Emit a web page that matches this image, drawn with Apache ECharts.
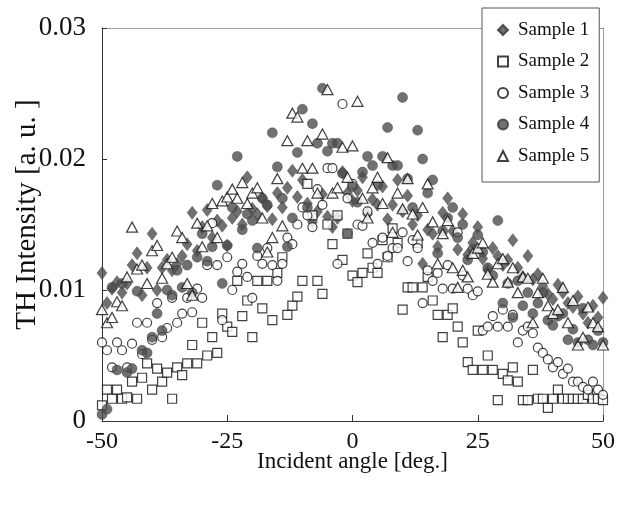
<!DOCTYPE html>
<html>
<head>
    <meta charset="UTF-8">
    <title>TH Intensity</title>
    <script src="https://cdn.jsdelivr.net/npm/echarts@6/dist/echarts.min.js"></script>
    <style>
        html, body {margin: 0; padding: 0; background: #fff;}
        #main {width: 624px; height: 507px;}
    </style>
</head>
<body>
<div id="main"></div>
<script type="text/javascript">
    // incident angles [deg.]
    var angles = [-50, -49, -48, -47, -46, -45, -44, -43, -42, -41,
        -40, -39, -38, -37, -36, -35, -34, -33, -32, -31,
        -30, -29, -28, -27, -26, -25, -24, -23, -22, -21,
        -20, -19, -18, -17, -16, -15, -14, -13, -12, -11,
        -10, -9, -8, -7, -6, -5, -4, -3, -2, -1,
        0,
        1, 2, 3, 4, 5, 6, 7, 8, 9, 10,
        11, 12, 13, 14, 15, 16, 17, 18, 19, 20,
        21, 22, 23, 24, 25, 26, 27, 28, 29, 30,
        31, 32, 33, 34, 35, 36, 37, 38, 39, 40,
        41, 42, 43, 44, 45, 46, 47, 48, 49, 50];

    // TH intensity [a. u.] per sample
    var sample1 = [0.0113, 0.0090, 0.0101, 0.0106, 0.0098, 0.0105, 0.0119, 0.0128, 0.0096, 0.0117,
        0.0143, 0.0100, 0.0117, 0.0123, 0.0115, 0.0120, 0.0126, 0.0135, 0.0159, 0.0130,
        0.0148, 0.0161, 0.0140, 0.0153, 0.0149, 0.0134, 0.0155, 0.0160, 0.0150, 0.0186,
        0.0162, 0.0158, 0.0170, 0.0164, 0.0154, 0.0174, 0.0163, 0.0178, 0.0191, 0.0171,
        0.0184, 0.0166, 0.0152, 0.0160, 0.0173, 0.0156, 0.0148, 0.0155, 0.0190, 0.0174,
        0.0168,
        0.0176, 0.0186, 0.0158, 0.0169, 0.0165, 0.0179, 0.0154, 0.0165, 0.0184, 0.0160,
        0.0172, 0.0150, 0.0157, 0.0120, 0.0146, 0.0143, 0.0133, 0.0159, 0.0170, 0.0145,
        0.0131, 0.0158, 0.0127, 0.0136, 0.0148, 0.0124, 0.0115, 0.0132, 0.0126, 0.0119,
        0.0123, 0.0138, 0.0117, 0.0110, 0.0126, 0.0108, 0.0112, 0.0103, 0.0097, 0.0093,
        0.0104, 0.0098, 0.0090, 0.0087, 0.0095, 0.0082, 0.0075, 0.0088, 0.0079, 0.0094];

    var sample2 = [0.0012, 0.0024, 0.0017, 0.0024, 0.0017, 0.0018, 0.0030, 0.0017, 0.0033, 0.0044,
        0.0024, 0.0040, 0.0030, 0.0037, 0.0017, 0.0041, 0.0035, 0.0044, 0.0058, 0.0044,
        0.0075, 0.0050, 0.0064, 0.0052, 0.0082, 0.0072, 0.0068, 0.0107, 0.0080, 0.0092,
        0.0064, 0.0107, 0.0086, 0.0107, 0.0077, 0.0113, 0.0125, 0.0081, 0.0088, 0.0095,
        0.0107, 0.0181, 0.0157, 0.0107, 0.0097, 0.0150, 0.0135, 0.0157, 0.0123, 0.0143,
        0.0111,
        0.0106, 0.0113, 0.0128, 0.0117, 0.0113, 0.0138, 0.0125, 0.0147, 0.0136, 0.0085,
        0.0102, 0.0102, 0.0136, 0.0102, 0.0110, 0.0092, 0.0081, 0.0064, 0.0081, 0.0086,
        0.0072, 0.0060, 0.0045, 0.0039, 0.0069, 0.0039, 0.0050, 0.0039, 0.0016, 0.0036,
        0.0031, 0.0041, 0.0030, 0.0016, 0.0016, 0.0039, 0.0017, 0.0017, 0.0010, 0.0017,
        0.0024, 0.0017, 0.0017, 0.0017, 0.0017, 0.0017, 0.0020, 0.0017, 0.0017, 0.0016];

    var sample3 = [0.0060, 0.0054, 0.0041, 0.0060, 0.0054, 0.0041, 0.0059, 0.0075, 0.0051, 0.0075,
        0.0062, 0.0090, 0.0064, 0.0071, 0.0094, 0.0075, 0.0082, 0.0094, 0.0083, 0.0101,
        0.0094, 0.0119, 0.0151, 0.0119, 0.0077, 0.0125, 0.0100, 0.0114, 0.0120, 0.0110,
        0.0094, 0.0126, 0.0120, 0.0132, 0.0119, 0.0107, 0.0120, 0.0140, 0.0135, 0.0150,
        0.0163, 0.0157, 0.0148, 0.0177, 0.0165, 0.0193, 0.0193, 0.0120, 0.0242, 0.0170,
        0.0181,
        0.0150, 0.0149, 0.0160, 0.0136, 0.0120, 0.0140, 0.0126, 0.0132, 0.0132, 0.0144,
        0.0122, 0.0138, 0.0132, 0.0090, 0.0115, 0.0107, 0.0113, 0.0101, 0.0119, 0.0101,
        0.0144, 0.0111, 0.0101, 0.0096, 0.0099, 0.0069, 0.0072, 0.0080, 0.0072, 0.0085,
        0.0072, 0.0081, 0.0060, 0.0069, 0.0072, 0.0067, 0.0056, 0.0052, 0.0047, 0.0041,
        0.0045, 0.0036, 0.0040, 0.0030, 0.0030, 0.0026, 0.0024, 0.0030, 0.0024, 0.0020];

    var sample4 = [0.0005, 0.0009, 0.0102, 0.0039, 0.0105, 0.0037, 0.0040, 0.0099, 0.0054, 0.0052,
        0.0064, 0.0082, 0.0069, 0.0100, 0.0096, 0.0115, 0.0102, 0.0119, 0.0098, 0.0125,
        0.0143, 0.0122, 0.0133, 0.0180, 0.0105, 0.0134, 0.0163, 0.0202, 0.0146, 0.0158,
        0.0153, 0.0132, 0.0170, 0.0165, 0.0220, 0.0194, 0.0170, 0.0133, 0.0155, 0.0205,
        0.0238, 0.0163, 0.0227, 0.0212, 0.0254, 0.0206, 0.0212, 0.0212, 0.0189, 0.0143,
        0.0179,
        0.0167, 0.0190, 0.0202, 0.0195, 0.0180, 0.0202, 0.0224, 0.0195, 0.0195, 0.0247,
        0.0185, 0.0163, 0.0222, 0.0200, 0.0174, 0.0184, 0.0128, 0.0145, 0.0155, 0.0163,
        0.0140, 0.0150, 0.0123, 0.0131, 0.0142, 0.0129, 0.0117, 0.0111, 0.0153, 0.0090,
        0.0105, 0.0079, 0.0107, 0.0088, 0.0098, 0.0082, 0.0090, 0.0098, 0.0077, 0.0073,
        0.0080, 0.0082, 0.0062, 0.0070, 0.0060, 0.0086, 0.0062, 0.0058, 0.0069, 0.0060];

    var sample5 = [0.0085, 0.0075, 0.0079, 0.0091, 0.0088, 0.0110, 0.0148, 0.0116, 0.0119, 0.0105,
        0.0130, 0.0134, 0.0109, 0.0120, 0.0125, 0.0145, 0.0140, 0.0105, 0.0096, 0.0151,
        0.0133, 0.0149, 0.0166, 0.0140, 0.0168, 0.0171, 0.0177, 0.0170, 0.0182, 0.0166,
        0.0174, 0.0178, 0.0155, 0.0129, 0.0140, 0.0185, 0.0149, 0.0214, 0.0235, 0.0232,
        0.0193, 0.0214, 0.0193, 0.0174, 0.0219, 0.0253, 0.0174, 0.0178, 0.0209, 0.0186,
        0.0210,
        0.0244, 0.0170, 0.0155, 0.0178, 0.0186, 0.0166, 0.0201, 0.0144, 0.0174, 0.0162,
        0.0185, 0.0158, 0.0142, 0.0163, 0.0181, 0.0152, 0.0120, 0.0143, 0.0153, 0.0117,
        0.0102, 0.0115, 0.0110, 0.0128, 0.0132, 0.0136, 0.0112, 0.0106, 0.0120, 0.0124,
        0.0106, 0.0117, 0.0098, 0.0110, 0.0109, 0.0075, 0.0098, 0.0109, 0.0088, 0.0082,
        0.0085, 0.0102, 0.0075, 0.0092, 0.0058, 0.0064, 0.0087, 0.0075, 0.0072, 0.0058];

    var names = ['Sample 1', 'Sample 2', 'Sample 3', 'Sample 4', 'Sample 5'];

    function pairs(vals) {
        var out = [];
        for (var i = 0; i < angles.length; i++) {
            out.push([angles[i], vals[i]]);
        }
        return out;
    }

    var serif = '"Liberation Serif", "DejaVu Serif", serif';
    var dark = '#4d4d4d';
    var open = {color: '#fff', borderColor: '#111', borderWidth: 1.2};

    var myChart = echarts.init(document.getElementById('main'));

    var option = {
        animation: false,
        backgroundColor: '#fff',
        grid: {left: 102, right: 21, top: 28, bottom: 86, outerBoundsMode: 'none'},
        legend: {
            orient: 'vertical',
            left: 482,
            top: 8,
            data: names,
            backgroundColor: '#fff',
            borderColor: '#555',
            borderWidth: 1,
            padding: [12, 10, 16, 15],
            itemGap: 11.5,
            itemWidth: 10,
            itemHeight: 10,
            z: 10,
            textStyle: {fontFamily: serif, fontSize: 19, lineHeight: 20, color: '#111', padding: [0, 0, 0, 5]}
        },
        xAxis: [{
            type: 'value',
            min: -50,
            max: 50,
            interval: 25,
            axisLine: {onZero: false, lineStyle: {color: '#333', width: 1}},
            axisTick: {inside: true, length: 6, lineStyle: {color: '#333'}},
            splitLine: {show: false},
            axisLabel: {fontFamily: serif, fontSize: 24, color: '#111', margin: 9},
            name: 'Incident angle [deg.]',
            nameLocation: 'middle',
            nameGap: 29,
            nameMoveOverlap: false,
            nameTextStyle: {fontFamily: serif, fontSize: 23, color: '#111'}
        }, {
            type: 'value',
            position: 'top',
            min: -50,
            max: 50,
            axisLine: {onZero: false, lineStyle: {color: '#888', type: 'dotted', width: 1}},
            axisTick: {show: false},
            axisLabel: {show: false},
            splitLine: {show: false}
        }],
        yAxis: [{
            type: 'value',
            min: 0,
            max: 0.03,
            interval: 0.01,
            axisLine: {show: true, onZero: false, lineStyle: {color: '#333', width: 1}},
            axisTick: {show: true, inside: true, length: 5, lineStyle: {color: '#333'}},
            splitLine: {show: false},
            axisLabel: {
                fontFamily: serif, fontSize: 27, color: '#111', margin: 16,
                formatter: function (v) {
                    return v === 0 ? '0' : v.toFixed(2);
                }
            },
            name: 'TH Intensity [a. u. ]',
            nameLocation: 'middle',
            nameGap: 60,
            nameMoveOverlap: false,
            nameTextStyle: {fontFamily: serif, fontSize: 29, color: '#111', padding: [0, 0, 0, 20]}
        }, {
            type: 'value',
            position: 'right',
            min: 0,
            max: 0.03,
            axisLine: {show: true, onZero: false, lineStyle: {color: '#888', type: 'dotted', width: 1}},
            axisTick: {show: false},
            axisLabel: {show: false},
            splitLine: {show: false}
        }],
        series: [
            {
                name: names[0], type: 'scatter', symbol: 'diamond', symbolSize: [10, 13],
                itemStyle: {color: dark, borderColor: '#333', borderWidth: 0.5},
                data: pairs(sample1)
            },
            {
                name: names[1], type: 'scatter', symbol: 'rect', symbolSize: 9,
                itemStyle: open,
                data: pairs(sample2)
            },
            {
                name: names[2], type: 'scatter', symbol: 'circle', symbolSize: 9,
                itemStyle: open,
                data: pairs(sample3)
            },
            {
                name: names[3], type: 'scatter', symbol: 'circle', symbolSize: 10,
                itemStyle: {color: dark, borderColor: '#333', borderWidth: 0.5},
                data: pairs(sample4)
            },
            {
                name: names[4], type: 'scatter', symbol: 'triangle', symbolSize: [11, 10],
                itemStyle: open,
                data: pairs(sample5)
            }
        ]
    };
    myChart.setOption(option);
</script>
</body>
</html>
